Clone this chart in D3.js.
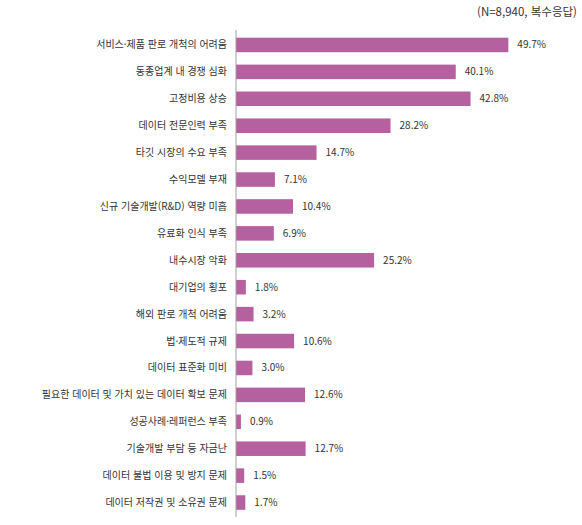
<!DOCTYPE html>
<html lang="ko">
<head>
  <meta charset="UTF-8">
  <title>애로사항</title>
  <script src="https://d3js.org/d3.v7.min.js"></script>
  <style>
    body { margin: 0; background: #fff; }
    svg { display: block; font-family: "Noto Sans CJK KR", "Noto Sans", sans-serif; }
    .cat { font-size: 10px; fill: #333; }
    .val { font-size: 10px; fill: #333; }
    .note { font-size: 11.5px; fill: #333; }
  </style>
</head>
<body>
  <svg id="chart" width="582" height="525"></svg>
  <script>
    const categories = [
      '서비스·제품 판로 개척의 어려움',
      '동종업계 내 경쟁 심화',
      '고정비용 상승',
      '데이터 전문인력 부족',
      '타깃 시장의 수요 부족',
      '수익모델 부재',
      '신규 기술개발(R&D) 역량 미흡',
      '유료화 인식 부족',
      '내수시장 악화',
      '대기업의 횡포',
      '해외 판로 개척 어려움',
      '법·제도적 규제',
      '데이터 표준화 미비',
      '필요한 데이터 및 가치 있는 데이터 확보 문제',
      '성공사례·레퍼런스 부족',
      '기술개발 부담 등 자금난',
      '데이터 불법 이용 및 방지 문제',
      '데이터 저작권 및 소유권 문제'
    ];
    const values = [49.7, 40.1, 42.8, 28.2, 14.7, 7.1, 10.4, 6.9, 25.2, 1.8, 3.2, 10.6, 3.0, 12.6, 0.9, 12.7, 1.5, 1.7];
    const note = '(N=8,940, 복수응답)';

    const svg = d3.select('#chart');
    const x0 = 236;

    const x = d3.scaleLinear().domain([0, 50]).range([x0, x0 + 274]);
    const y = d3.scaleBand().domain(categories).range([31.5, 516]).paddingInner(0.46).paddingOuter(0.23);

    svg.append('text')
      .attr('class', 'note')
      .attr('x', 577).attr('y', 16)
      .attr('text-anchor', 'end')
      .text(note);

    svg.selectAll('rect.bar')
      .data(values)
      .join('rect')
      .attr('class', 'bar')
      .attr('x', x(0))
      .attr('y', (d, i) => y(categories[i]))
      .attr('width', d => x(d) - x(0))
      .attr('height', y.bandwidth())
      .attr('fill', '#b6619f');

    svg.selectAll('text.cat')
      .data(categories)
      .join('text')
      .attr('class', 'cat')
      .attr('x', x0 - 9)
      .attr('y', d => y(d) + y.bandwidth() / 2)
      .attr('dy', '0.35em')
      .attr('text-anchor', 'end')
      .text(d => d);

    svg.selectAll('text.val')
      .data(values)
      .join('text')
      .attr('class', 'val')
      .attr('x', d => x(d) + 9)
      .attr('y', (d, i) => y(categories[i]) + y.bandwidth() / 2)
      .attr('dy', '0.35em')
      .text(d => d.toFixed(1) + '%');

    svg.append('line')
      .attr('x1', x0).attr('x2', x0)
      .attr('y1', 30).attr('y2', 517)
      .attr('stroke', '#a0a0a0')
      .attr('stroke-width', 1);
  </script>
</body>
</html>
